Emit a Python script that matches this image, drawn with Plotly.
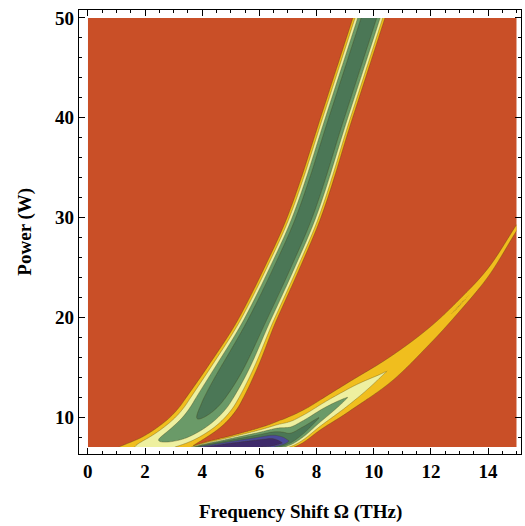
import numpy as np
import plotly.graph_objects as go

# ---- values ----
# Upper gain band, sampled along power P (W): centre frequency, half-width (THz), peak level
up_P = [7, 8, 9, 10, 11, 12, 15, 20, 25, 30, 40, 50]
up_c = [2.34, 3.03, 3.55, 3.94, 4.23, 4.45, 5.06, 5.97, 6.8, 7.56, 8.7, 9.83]
up_hw = [1.26, 1.13, 1.1, 1.06, 1.03, 1.0, 0.88, 0.67, 0.62, 0.59, 0.56, 0.56]
up_peak = [1.45, 2.45, 2.8, 3.05, 3.3, 3.5, 3.85, 3.95, 3.95, 3.95, 3.95, 3.95]

# Lower gain band, sampled along frequency (THz):
# ridge power, extent above / below the ridge (W), peak level
lo_W = [3.57, 4.0, 5.1, 6.3, 6.8, 7.05, 7.5, 8.12, 9.1, 10.5, 12.0, 13.0, 14.0, 15.0]
lo_c = [6.75, 6.9, 7.1, 7.3, 7.4, 7.6, 8.5, 10.0, 12.0, 14.7, 18.3, 21.2, 24.5, 29.0]
lo_up = [0.25, 0.5, 1.1, 1.9, 2.35, 2.45, 2.15, 1.7, 1.45, 1.2, 0.8, 0.6, 0.42, 0.3]
lo_dn = [0.3, 0.5, 0.8, 0.9, 0.7, 0.75, 1.1, 1.3, 1.5, 1.4, 0.85, 0.6, 0.42, 0.3]
lo_peak = [5.5, 5.6, 6.5, 6.4, 5.0, 4.0, 3.6, 3.0, 2.0, 1.0, 0.9, 1.04, 0.9, 0.8]

x_ticks = [0, 2, 4, 6, 8, 10, 12, 14]
y_ticks = [10, 20, 30, 40, 50]

level_colors = ["#C94F27", "#F0BE1E", "#EEF0A0", "#6A9A68", "#4B7756", "#4A4A9A", "#3E2A6A"]


def pchip(xk, yk, x):
    """Monotone piecewise-cubic interpolation through the read sample points."""
    xk = np.asarray(xk, float)
    yk = np.asarray(yk, float)
    h = np.diff(xk)
    d = np.diff(yk) / h
    m = np.zeros_like(yk)
    for i in range(1, len(xk) - 1):
        if d[i - 1] * d[i] > 0:
            w1 = 2 * h[i] + h[i - 1]
            w2 = h[i] + 2 * h[i - 1]
            m[i] = (w1 + w2) / (w1 / d[i - 1] + w2 / d[i])
    m[0] = d[0]
    m[-1] = d[-1]
    x = np.clip(np.asarray(x, float), xk[0], xk[-1])
    idx = np.clip(np.searchsorted(xk, x) - 1, 0, len(xk) - 2)
    t = (x - xk[idx]) / h[idx]
    h00 = 2 * t**3 - 3 * t**2 + 1
    h10 = t**3 - 2 * t**2 + t
    h01 = -2 * t**3 + 3 * t**2
    h11 = t**3 - t**2
    return h00 * yk[idx] + h10 * h[idx] * m[idx] + h01 * yk[idx + 1] + h11 * h[idx] * m[idx + 1]


# ---- build gain map from the read band descriptions ----
Om = np.linspace(0, 15, 376)
P = np.linspace(7, 50, 861)
OO, PP = np.meshgrid(Om, P)

cu = pchip(up_P, up_c, P)[:, None]
hu = pchip(up_P, up_hw, P)[:, None]
pu = pchip(up_P, up_peak, P)[:, None]
zu = pu * (1 - ((OO - cu) / hu) ** 2)

cl = pchip(lo_W, lo_c, Om)[None, :]
hup = pchip(lo_W, lo_up, Om)[None, :]
hdn = pchip(lo_W, lo_dn, Om)[None, :]
pl = pchip(lo_W, lo_peak, Om)[None, :]
ul = np.where(PP >= cl, (PP - cl) / hup, (cl - PP) / hdn)
zl = pl * (1 - ul ** 1.2)
zl = np.where(OO < lo_W[0], -1, zl)

z = np.clip(np.maximum(zu, zl), -1, None)
z = np.round(z, 3)

n = len(level_colors)
cscale = []
for i, c in enumerate(level_colors):
    cscale.append([i / n, c])
    cscale.append([(i + 1) / n, c])

fig = go.Figure(go.Contour(
    x=Om, y=P, z=z,
    contours=dict(start=0, end=5, size=1, coloring="fill"),
    colorscale=cscale,
    line=dict(width=0.7, color="rgba(70,60,20,0.45)", smoothing=1),
    showscale=False,
    hoverinfo="skip",
))

tickfont = dict(family="Liberation Serif", size=19, color="black", weight="bold")
axis_common = dict(
    showline=True, linecolor="black", linewidth=1.2, mirror="allticks",
    ticks="inside", ticklen=6, tickwidth=1, tickcolor="black",
    showgrid=False, zeroline=False, tickfont=tickfont,
)
fig.update_xaxes(range=[-0.31, 15.15], tickvals=x_ticks,
                 minor=dict(dtick=0.5, ticks="inside", ticklen=3, tickcolor="black", showgrid=False),
                 **axis_common)
fig.update_yaxes(range=[6.3, 50.8], tickvals=y_ticks,
                 minor=dict(tick0=0, dtick=2, ticks="inside", ticklen=3, tickcolor="black", showgrid=False),
                 **axis_common)

titlefont = dict(family="Liberation Serif", size=19, color="black", weight="bold")
fig.add_annotation(text="Frequency Shift Ω (THz)", xref="paper", yref="paper",
                   x=0.5, y=-0.13, yanchor="middle", showarrow=False, font=titlefont)
fig.add_annotation(text="Power (W)", xref="paper", yref="paper",
                   x=-0.123, y=0.5, xanchor="center", textangle=-90, showarrow=False, font=titlefont)

fig.update_layout(
    width=525, height=526,
    margin=dict(l=79, r=4, t=10, b=72),
    paper_bgcolor="white", plot_bgcolor="white",
)
fig.write_html("out.html")
